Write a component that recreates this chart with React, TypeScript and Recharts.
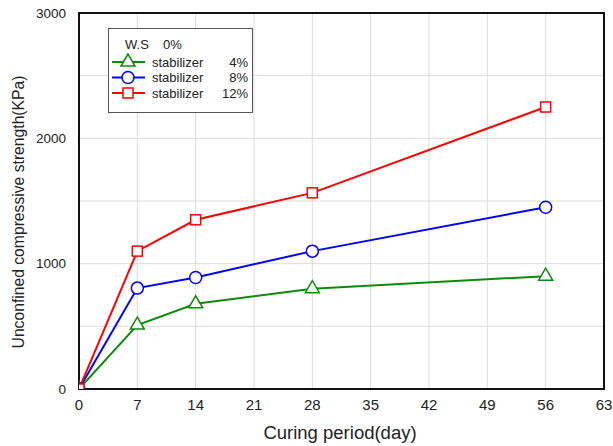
import React from 'react';
import { LineChart, Line, XAxis, YAxis, CartesianGrid, ReferenceArea, Legend, Label } from 'recharts';

const days = [0, 7, 14, 28, 56];
const stab4 = [0, 510, 680, 800, 900];
const stab8 = [0, 805, 890, 1100, 1450];
const stab12 = [0, 1100, 1350, 1565, 2250];
const xTicks = [0, 7, 14, 21, 28, 35, 42, 49, 56, 63];
const yTicks = [0, 500, 1000, 1500, 2000, 2500, 3000];
const seriesNames = ['stabilizer', 'stabilizer', 'stabilizer'];
const seriesPct = ['4%', '8%', '12%'];
const wsLabel = 'W.S';
const wsPct = '0%';

const GREEN = '#0c8a0c';
const BLUE = '#0000ff';
const RED = '#ff0000';
const FONT = 'Arial, "Liberation Sans", sans-serif';

const data = days.map((d, i) => ({ day: d, s4: stab4[i], s8: stab8[i], s12: stab12[i] }));

const TriDot = (p: any) => {
  const { cx, cy, key } = p;
  if (cx == null || cy == null) return null;
  const h = 12, w = 14;
  const pts = `${cx},${cy - h * 2 / 3} ${cx - w / 2},${cy + h / 3} ${cx + w / 2},${cy + h / 3}`;
  return <polygon key={key} points={pts} fill="#fff" stroke={GREEN} strokeWidth={1.5} />;
};
const CircDot = (p: any) => {
  const { cx, cy, key } = p;
  if (cx == null || cy == null) return null;
  return <circle key={key} cx={cx} cy={cy} r={6} fill="#fff" stroke={BLUE} strokeWidth={1.5} />;
};
const SqDot = (p: any) => {
  const { cx, cy, key } = p;
  if (cx == null || cy == null) return null;
  return <rect key={key} x={cx - 5} y={cy - 5} width={10} height={10} fill="#fff" stroke={RED} strokeWidth={1.5} />;
};

const XTick = (p: any) => {
  const { x, y, payload } = p;
  return (
    <text x={x} y={y} dy={15} textAnchor="middle" fontSize={15} fill="#222" fontFamily={FONT} dominantBaseline="central">
      {payload.value}
    </text>
  );
};
const YTick = (p: any) => {
  const { x, y, payload } = p;
  if (payload.value % 1000 !== 0) return null;
  return (
    <text x={x} y={y} textAnchor="end" fontSize={13.5} fill="#222" fontFamily={FONT} dominantBaseline="central">
      {payload.value}
    </text>
  );
};

const legendRows = [
  { color: GREEN, shape: 'tri' },
  { color: BLUE, shape: 'circ' },
  { color: RED, shape: 'sq' },
];

const LegendBox = () => (
  <svg width={146} height={86} style={{ display: 'block' }}>
    <rect x={0.5} y={0.5} width={144} height={84} fill="#fff" stroke="#555" strokeWidth={1} />
    <text x={17} y={16} fontSize={13} fill="#222" fontFamily={FONT} dominantBaseline="central">{wsLabel}</text>
    <text x={55} y={16} fontSize={13} fill="#222" fontFamily={FONT} dominantBaseline="central">{wsPct}</text>
    {legendRows.map((r, i) => {
      const cy = 34 + i * 15.5;
      return (
        <g key={i}>
          <line x1={4} x2={37} y1={cy} y2={cy} stroke={r.color} strokeWidth={2} />
          {r.shape === 'tri' && (
            <polygon points={`20,${cy - 8} 13,${cy + 4} 27,${cy + 4}`} fill="#fff" stroke={r.color} strokeWidth={1.5} />
          )}
          {r.shape === 'circ' && <circle cx={20} cy={cy} r={6} fill="#fff" stroke={r.color} strokeWidth={1.5} />}
          {r.shape === 'sq' && <rect x={15} y={cy - 5} width={10} height={10} fill="#fff" stroke={r.color} strokeWidth={1.5} />}
          <text x={44} y={cy} fontSize={13} fill="#222" fontFamily={FONT} dominantBaseline="central">{seriesNames[i]}</text>
          <text x={140} y={cy} fontSize={13} fill="#222" fontFamily={FONT} dominantBaseline="central" textAnchor="end">{seriesPct[i]}</text>
        </g>
      );
    })}
  </svg>
);

export default function App() {
  return (
    <div style={{ position: 'absolute', left: 0, top: 0, width: 613, height: 446, background: '#fff' }}>
      <LineChart width={613} height={446} data={data} margin={{ top: 13, right: 9, bottom: 27, left: 9 }}>
        <CartesianGrid stroke="#dcdcdc" strokeWidth={1} />
        <XAxis
          dataKey="day"
          type="number"
          domain={[0, 63]}
          ticks={xTicks}
          allowDataOverflow
          tickLine={false}
          tickSize={0}
          tickMargin={0}
          axisLine={false}
          tick={<XTick />}
          height={30}
        >
          <Label
            content={() => (
              <text x={340} y={432} textAnchor="middle" fontSize={18.5} fill="#222" fontFamily={FONT} dominantBaseline="central">
                Curing period(day)
              </text>
            )}
          />
        </XAxis>
        <YAxis
          type="number"
          domain={[0, 3000]}
          ticks={yTicks}
          allowDataOverflow
          tickLine={false}
          tickSize={0}
          tickMargin={13}
          axisLine={false}
          tick={<YTick />}
          width={70}
        >
          <Label
            content={() => (
              <text
                x={18}
                y={212}
                transform="rotate(-90 18 212)"
                textAnchor="middle"
                fontSize={15.7}
                fill="#222"
                fontFamily={FONT}
                dominantBaseline="central"
              >
                Unconfined compressive strength(KPa)
              </text>
            )}
          />
        </YAxis>
        <ReferenceArea x1={0} x2={63} y1={0} y2={3000} fill="none" stroke="#111" strokeWidth={2} ifOverflow="visible" />
        <Line dataKey="s4" stroke={GREEN} strokeWidth={2} dot={<TriDot />} isAnimationActive={false} />
        <Line dataKey="s8" stroke={BLUE} strokeWidth={2} dot={<CircDot />} isAnimationActive={false} />
        <Line dataKey="s12" stroke={RED} strokeWidth={2} dot={<SqDot />} isAnimationActive={false} />
        <Legend
          layout="vertical"
          align="center"
          verticalAlign="middle"
          content={() => <LegendBox />}
          wrapperStyle={{ position: 'absolute', left: 108, top: 28, width: 146, height: 86 }}
        />
      </LineChart>
    </div>
  );
}
